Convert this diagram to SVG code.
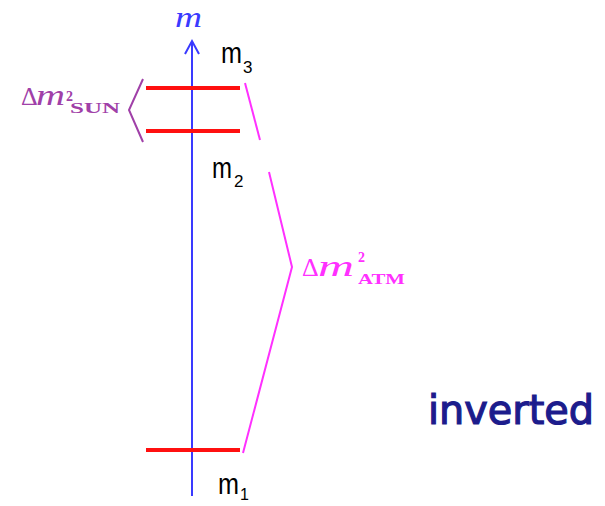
<svg xmlns="http://www.w3.org/2000/svg" width="605" height="506" viewBox="0 0 605 506">
<style>
.lvl{stroke:#ff1010;stroke-width:4;fill:none}
.ax{stroke:#3a3aff;stroke-width:2;fill:none}
.atm{stroke:#ff30ff;stroke-width:2;fill:none}
.sun{stroke:#a040a8;stroke-width:2;fill:none}
.lab{font-family:"Liberation Sans",Arial,sans-serif;fill:#000}
.mth{font-family:"Liberation Serif","Times New Roman",serif}
.sub{font-size:17px}
</style>
<rect width="605" height="506" fill="#fff"/>
<g id="connectors">
<line class="ax" x1="192" y1="496" x2="192" y2="42"/>
<polyline class="ax" points="185,54 192,41 199,54"/>
<polyline class="sun" points="143,79 129,110 143,142"/>
<line class="atm" x1="245" y1="83" x2="260" y2="140"/>
<polyline class="atm" points="269,172 292,267 243,453"/>
</g>
<g id="axis-label">
<text class="mth" x="175" y="27" font-size="30" font-style="italic" fill="#3a3aff" textLength="27" lengthAdjust="spacingAndGlyphs">m</text>
</g>
<g id="m3">
<line class="lvl" x1="146" y1="88" x2="240" y2="88"/>
<text class="lab" x="221" y="63" font-size="30"><tspan textLength="21" lengthAdjust="spacingAndGlyphs">m</tspan><tspan class="sub" x="243" dy="10">3</tspan></text>
</g>
<g id="m2">
<line class="lvl" x1="146" y1="131" x2="240" y2="131"/>
<text class="lab" x="212" y="178" font-size="30"><tspan textLength="20" lengthAdjust="spacingAndGlyphs">m</tspan><tspan class="sub" x="234" dy="9">2</tspan></text>
</g>
<g id="m1">
<line class="lvl" x1="146" y1="450" x2="240" y2="450"/>
<text class="lab" x="218" y="494" font-size="30"><tspan textLength="21" lengthAdjust="spacingAndGlyphs">m</tspan><tspan class="sub" x="240" dy="6" style="font-size:16px">1</tspan></text>
</g>
<g id="dm-sun" fill="#a040a8">
<text class="mth" x="21" y="105" font-size="26">Δ</text>
<text class="mth" x="36" y="105" font-size="30" font-style="italic" textLength="29" lengthAdjust="spacingAndGlyphs">m</text>
<text class="mth" x="66" y="101" font-size="14" font-weight="bold">2</text>
<text class="mth" x="70" y="113" font-size="14" font-weight="bold" textLength="50" lengthAdjust="spacingAndGlyphs">SUN</text>
</g>
<g id="dm-atm" fill="#ff30ff">
<text class="mth" x="302" y="276" font-size="26">Δ</text>
<text class="mth" x="318" y="276" font-size="30" font-style="italic" textLength="36" lengthAdjust="spacingAndGlyphs">m</text>
<text class="mth" x="358" y="262" font-size="14" font-weight="bold">2</text>
<text class="mth" x="358" y="284" font-size="14" font-weight="bold" textLength="47" lengthAdjust="spacingAndGlyphs">ATM</text>
</g>
<g id="title">
<text x="428" y="424" font-family="DejaVu Sans,Verdana,sans-serif" font-size="40" fill="#1c1c8c" stroke="#1c1c8c" stroke-width="1.2" textLength="166" lengthAdjust="spacingAndGlyphs">inverted</text>
</g>
</svg>
